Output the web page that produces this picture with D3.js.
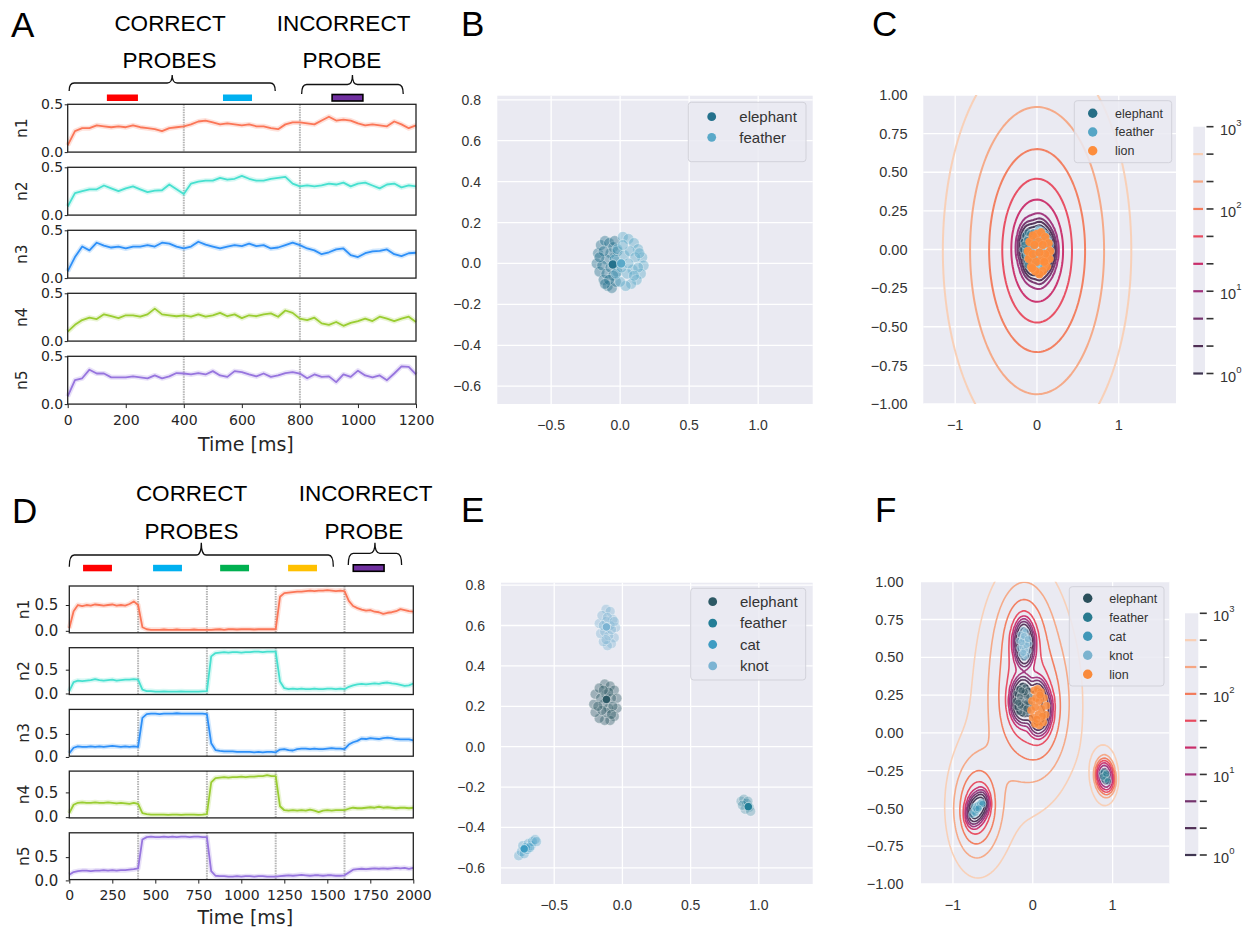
<!DOCTYPE html>
<html>
<head>
<meta charset="utf-8">
<script src="https://cdn.jsdelivr.net/npm/d3@7"></script>
<style>
  body { margin: 0; background: #fff; }
  svg { display: block; }
</style>
</head>
<body>
<svg id="fig" width="1247" height="928"></svg>
<script>
// ---------------- data: firing-rate traces ----------------
var neurons = ["n1", "n2", "n3", "n4", "n5"];

var timeA = d3.range(0, 1201, 25);
var a_n1 = [0.07,0.22,0.25,0.25,0.28,0.27,0.26,0.27,0.26,0.28,0.26,0.25,0.24,0.22,0.25,0.26,0.27,0.29,0.32,0.33,0.31,0.29,0.30,0.29,0.28,0.29,0.27,0.27,0.25,0.24,0.29,0.31,0.31,0.30,0.29,0.33,0.37,0.33,0.34,0.33,0.30,0.28,0.29,0.28,0.27,0.32,0.29,0.25,0.28];
var a_n2 = [0.09,0.23,0.25,0.27,0.27,0.31,0.28,0.25,0.28,0.30,0.27,0.24,0.255,0.26,0.32,0.27,0.22,0.33,0.35,0.36,0.36,0.39,0.37,0.38,0.41,0.38,0.36,0.36,0.38,0.39,0.40,0.33,0.30,0.31,0.30,0.31,0.33,0.32,0.34,0.30,0.33,0.34,0.31,0.28,0.32,0.33,0.29,0.31,0.30];
var a_n3 = [0.07,0.22,0.33,0.29,0.37,0.34,0.32,0.33,0.31,0.33,0.33,0.345,0.33,0.37,0.36,0.33,0.31,0.33,0.38,0.35,0.33,0.31,0.33,0.345,0.335,0.36,0.335,0.345,0.31,0.32,0.345,0.37,0.345,0.31,0.29,0.25,0.27,0.30,0.31,0.24,0.22,0.26,0.28,0.285,0.30,0.25,0.23,0.26,0.265];
var a_n4 = [0.10,0.17,0.22,0.245,0.23,0.28,0.26,0.24,0.27,0.27,0.255,0.28,0.34,0.28,0.27,0.26,0.27,0.255,0.28,0.255,0.27,0.295,0.26,0.28,0.24,0.27,0.26,0.28,0.29,0.255,0.32,0.295,0.235,0.22,0.245,0.185,0.17,0.20,0.16,0.19,0.21,0.235,0.21,0.255,0.235,0.21,0.235,0.255,0.20];
var a_n5 = [0.08,0.25,0.27,0.36,0.32,0.32,0.28,0.28,0.28,0.29,0.28,0.27,0.30,0.27,0.29,0.325,0.32,0.31,0.325,0.31,0.345,0.30,0.285,0.345,0.335,0.31,0.29,0.32,0.285,0.30,0.325,0.335,0.32,0.27,0.31,0.285,0.29,0.23,0.31,0.285,0.35,0.30,0.28,0.30,0.25,0.32,0.395,0.39,0.31];

var timeD = d3.range(0, 2001, 25);
var d_n1 = [0.05,0.38,0.50,0.48,0.50,0.49,0.51,0.50,0.49,0.50,0.51,0.49,0.50,0.49,0.52,0.57,0.50,
  0.07,0.03,0.02,0.02,0.02,0.025,0.02,0.02,0.025,0.02,0.02,0.02,0.025,0.02,0.02,0.02,
  0.02,0.025,0.03,0.02,0.03,0.03,0.025,0.03,0.03,0.03,0.025,0.03,0.03,0.03,0.03,0.03,
  0.66,0.73,0.74,0.75,0.76,0.76,0.77,0.78,0.77,0.78,0.78,0.79,0.78,0.77,0.78,0.77,
  0.58,0.48,0.44,0.41,0.39,0.40,0.37,0.36,0.33,0.35,0.36,0.38,0.42,0.40,0.38,0.37];
var d_n2 = [0.05,0.24,0.27,0.26,0.27,0.28,0.30,0.28,0.27,0.28,0.29,0.27,0.28,0.29,0.29,0.30,0.29,
  0.08,0.05,0.05,0.04,0.04,0.045,0.04,0.04,0.04,0.045,0.04,0.04,0.04,0.04,0.045,0.05,
  0.78,0.85,0.86,0.87,0.86,0.87,0.87,0.86,0.87,0.87,0.88,0.88,0.87,0.88,0.88,0.88,
  0.25,0.11,0.09,0.10,0.09,0.10,0.09,0.09,0.10,0.09,0.09,0.10,0.10,0.09,0.10,0.09,
  0.14,0.17,0.19,0.20,0.19,0.20,0.21,0.20,0.22,0.23,0.21,0.20,0.18,0.16,0.17,0.21];
var d_n3 = [0.08,0.20,0.23,0.22,0.22,0.23,0.22,0.23,0.22,0.23,0.24,0.23,0.22,0.23,0.22,0.23,0.22,
  0.85,0.93,0.94,0.94,0.93,0.94,0.94,0.94,0.95,0.94,0.94,0.94,0.94,0.94,0.94,0.93,
  0.30,0.15,0.13,0.12,0.12,0.12,0.11,0.11,0.11,0.11,0.10,0.11,0.10,0.11,0.11,0.10,
  0.16,0.17,0.15,0.14,0.17,0.18,0.18,0.17,0.18,0.17,0.17,0.18,0.19,0.18,0.18,0.17,
  0.27,0.32,0.35,0.40,0.39,0.41,0.40,0.39,0.41,0.42,0.41,0.39,0.38,0.38,0.38,0.36];
var d_n4 = [0.08,0.25,0.29,0.30,0.29,0.29,0.30,0.29,0.29,0.30,0.29,0.28,0.29,0.28,0.27,0.29,0.27,
  0.08,0.06,0.05,0.05,0.05,0.05,0.045,0.05,0.05,0.045,0.05,0.05,0.05,0.045,0.05,0.06,
  0.70,0.79,0.80,0.81,0.80,0.81,0.81,0.82,0.81,0.82,0.82,0.83,0.83,0.85,0.83,0.83,
  0.22,0.14,0.13,0.14,0.13,0.14,0.13,0.15,0.13,0.10,0.13,0.14,0.13,0.14,0.14,0.14,
  0.17,0.19,0.18,0.18,0.19,0.20,0.19,0.21,0.19,0.20,0.19,0.18,0.19,0.19,0.18,0.19];
var d_n5 = [0.12,0.18,0.20,0.21,0.21,0.20,0.21,0.21,0.22,0.21,0.22,0.21,0.22,0.22,0.23,0.24,0.26,
  0.88,0.93,0.94,0.93,0.93,0.94,0.93,0.94,0.93,0.94,0.94,0.93,0.94,0.94,0.93,0.93,
  0.20,0.10,0.09,0.09,0.08,0.08,0.09,0.08,0.09,0.09,0.08,0.09,0.09,0.08,0.08,0.08,
  0.09,0.10,0.11,0.10,0.11,0.12,0.11,0.10,0.11,0.11,0.10,0.11,0.11,0.10,0.10,0.11,
  0.17,0.23,0.24,0.25,0.24,0.25,0.26,0.25,0.26,0.25,0.26,0.27,0.26,0.27,0.25,0.27];

var eventsA = [400, 800];
var eventsD = [400, 800, 1200, 1600];
var probesA = [[135, 242], [535, 635], [911, 1017]];
var probesD = [[80, 248], [487, 655], [877, 1045], [1272, 1440], [1651, 1830]];
var bracesA = [[5, 715], [806, 1156]];
var bracesD = [[0, 1535], [1622, 1932]];
var xTicksA = [0, 200, 400, 600, 800, 1000, 1200];
var xTicksD = [0, 250, 500, 750, 1000, 1250, 1500, 1750, 2000];
var traceYTicks = [0, 0.5];

// ---------------- data: embeddings ----------------
var bElephant = [[-0.16,0.05],[-0.14,0.09],[-0.11,0.11],[-0.08,0.10],[-0.05,0.08],[-0.17,0.00],[-0.15,-0.04],[-0.12,-0.08],[-0.09,-0.11],[-0.06,-0.12],[-0.03,-0.09],[-0.02,-0.04],[-0.04,0.03],[-0.07,0.05],[-0.10,0.02],[-0.13,-0.01],[-0.10,-0.05],[-0.07,-0.02],[-0.12,0.06],[-0.05,-0.06],[-0.15,0.03],[-0.08,-0.08],[-0.02,0.06],[-0.11,-0.10],[-0.04,0.11]];
var bFeather = [[0.02,0.13],[0.06,0.12],[0.10,0.10],[0.13,0.07],[0.16,0.03],[0.17,-0.01],[0.15,-0.05],[0.12,-0.08],[0.08,-0.10],[0.04,-0.11],[0.00,-0.09],[-0.03,-0.05],[-0.04,0.02],[-0.02,0.07],[0.03,0.04],[0.07,0.06],[0.11,0.03],[0.09,-0.03],[0.05,-0.05],[0.01,-0.02],[0.13,-0.02],[0.06,0.00],[0.10,-0.06],[0.02,0.09],[0.14,0.05]];
var bMeans = [[-0.053,-0.005],[0.007,0.0]];
var cLion = [[0.00,0.10],[0.05,0.11],[0.10,0.08],[0.14,0.04],[0.16,-0.01],[0.15,-0.06],[0.12,-0.11],[0.07,-0.14],[0.03,-0.16],[-0.02,-0.14],[-0.07,-0.11],[-0.10,-0.06],[-0.11,-0.01],[-0.09,0.05],[-0.05,0.09],[0.02,0.05],[0.07,0.03],[0.10,-0.03],[0.05,-0.07],[-0.01,-0.08],[-0.05,-0.03],[-0.03,0.03],[0.03,-0.02],[0.09,-0.08],[-0.06,-0.12]];

var eElephant = [[-0.13,0.31],[-0.09,0.30],[-0.06,0.28],[-0.04,0.24],[-0.04,0.19],[-0.06,0.15],[-0.09,0.13],[-0.13,0.13],[-0.17,0.14],[-0.20,0.17],[-0.21,0.21],[-0.20,0.26],[-0.17,0.29],[-0.12,0.26],[-0.08,0.24],[-0.10,0.19],[-0.14,0.21],[-0.16,0.24],[-0.07,0.20],[-0.12,0.17],[-0.15,0.18],[-0.10,0.27],[-0.18,0.20],[-0.08,0.16],[-0.14,0.28]];
var eFeather = [[0.87,-0.27],[0.89,-0.26],[0.91,-0.28],[0.93,-0.30],[0.90,-0.31],[0.88,-0.29],[0.92,-0.27],[0.94,-0.32]];
var eCat = [[-0.76,-0.54],[-0.74,-0.52],[-0.72,-0.53],[-0.73,-0.49],[-0.70,-0.51],[-0.69,-0.48],[-0.67,-0.49],[-0.66,-0.47],[-0.64,-0.46],[-0.63,-0.47],[-0.71,-0.50],[-0.68,-0.50]];
var eKnot = [[-0.12,0.68],[-0.09,0.67],[-0.07,0.63],[-0.05,0.59],[-0.06,0.54],[-0.08,0.51],[-0.11,0.50],[-0.14,0.52],[-0.16,0.56],[-0.17,0.61],[-0.15,0.65],[-0.12,0.62],[-0.09,0.60],[-0.13,0.57],[-0.10,0.55],[-0.08,0.58],[-0.14,0.60],[-0.11,0.64],[-0.06,0.62],[-0.12,0.53]];
var eMeans = [[-0.117,0.234],[0.923,-0.297],[-0.72,-0.506],[-0.117,0.593]];
var fLion = [[0.02,0.28],[0.06,0.29],[0.10,0.27],[0.14,0.23],[0.17,0.18],[0.16,0.12],[0.13,0.07],[0.08,0.05],[0.03,0.06],[0.00,0.10],[-0.02,0.15],[-0.01,0.21],[0.04,0.23],[0.08,0.21],[0.11,0.16],[0.07,0.12],[0.03,0.17],[0.12,0.11],[0.05,0.09],[0.09,0.25]];

var wordsB = ["elephant", "feather"];
var wordsC = ["elephant", "feather", "lion"];
var wordsE = ["elephant", "feather", "cat", "knot"];
var wordsF = ["elephant", "feather", "cat", "knot", "lion"];

var mapXTicks = [-0.5, 0, 0.5, 1.0];
var mapYTicks = [-0.6, -0.4, -0.2, 0, 0.2, 0.4, 0.6, 0.8];
var kdeXTicks = [-1, 0, 1];
var kdeYTicks = [-1, -0.75, -0.5, -0.25, 0, 0.25, 0.5, 0.75, 1];
var cbarDecades = [0, 1, 2, 3];

// ---------------- styling ----------------
var svg = d3.select("#fig");
var SANS = "Liberation Sans, Arial, sans-serif";
var DEJA = "DejaVu Sans, sans-serif";
var traceColors = ["#fb7657", "#47e0cf", "#2e90f8", "#9acd32", "#9775de"];
var probeColorsA = ["#ff0000", "#00b0f0", "#7030a0"];
var probeColorsD = ["#ff0000", "#00b0f0", "#00b050", "#ffc000", "#7030a0"];
// contour levels 10^0 ... 10^(8/3): dark -> pale
var levelColors = ["#3f3550", "#4f2e54", "#74336c", "#a0317a", "#c92d6a", "#e8495d", "#f27a5a", "#f5a683", "#f9cfb4"];

function autoLim(vals) {
  var lo = d3.min(vals), hi = d3.max(vals), r = hi - lo;
  return [lo - 0.05 * r - 0.02, hi + 0.05 * r + 0.04];
}

function styleAxis(a, font, size) {
  a.select(".domain").remove();
  a.selectAll("line").attr("stroke", "#222").attr("stroke-width", 1);
  a.selectAll("text").attr("font-family", font).attr("font-size", size).attr("fill", "#262626");
}

function brace(g, x0, x1, yTop, yLine, yEnd) {
  var xc = (x0 + x1) / 2, r = 5;
  var p = d3.path();
  p.moveTo(x0, yEnd);
  p.quadraticCurveTo(x0, yLine, x0 + r, yLine);
  p.lineTo(xc - r, yLine);
  p.quadraticCurveTo(xc, yLine, xc, yTop);
  p.quadraticCurveTo(xc, yLine, xc + r, yLine);
  p.lineTo(x1 - r, yLine);
  p.quadraticCurveTo(x1, yLine, x1, yEnd);
  g.append("path").attr("d", p.toString()).attr("fill", "none").attr("stroke", "#111").attr("stroke-width", 1.3);
}

function panelLetter(t, x, y) {
  svg.append("text").attr("x", x).attr("y", y).text(t)
    .attr("font-family", SANS).attr("font-size", 35).attr("fill", "#000");
}

function header(t, x, y) {
  svg.append("text").attr("x", x).attr("y", y).text(t).attr("text-anchor", "middle")
    .attr("font-family", SANS).attr("font-size", 22.5).attr("fill", "#000");
}

// ---------------- stacked traces (A, D) ----------------
function tracePanel(cfg) {
  var x = d3.scaleLinear().domain(cfg.xDomain).range(cfg.xRange);
  var g = svg.append("g");

  // probe braces and bars
  cfg.braces.forEach(function(b, i) {
    brace(g, x(b[0]), x(b[1]), cfg.brace[i][0], cfg.brace[i][1], cfg.brace[i][2]);
  });
  cfg.probes.forEach(function(p, i) {
    var last = i === cfg.probes.length - 1;
    g.append("rect").attr("x", x(p[0])).attr("y", cfg.barY).attr("width", x(p[1]) - x(p[0])).attr("height", 6.5)
      .attr("fill", cfg.probeColors[i])
      .attr("stroke", last ? "#000" : "none").attr("stroke-width", 1.6);
  });

  cfg.traces.forEach(function(vals, k) {
    var top = cfg.top + k * cfg.step;
    var lim = cfg.ylim || autoLim(vals);
    var y = d3.scaleLinear().domain(lim).range([top + cfg.h, top]);
    var line = d3.line()
      .x(function(d, i) { return x(cfg.time[i]); })
      .y(function(d) { return y(d); });

    cfg.events.forEach(function(t) {
      g.append("line").attr("x1", x(t)).attr("x2", x(t)).attr("y1", top).attr("y2", top + cfg.h)
        .attr("stroke", "#b4b4b4").attr("stroke-width", 2).attr("stroke-dasharray", "1.5,1");
    });
    g.append("path").datum(vals).attr("d", line).attr("fill", "none")
      .attr("stroke", traceColors[k]).attr("stroke-opacity", 0.22).attr("stroke-width", 5).attr("stroke-linejoin", "round");
    g.append("path").datum(vals).attr("d", line).attr("fill", "none")
      .attr("stroke", traceColors[k]).attr("stroke-width", 1.8).attr("stroke-linejoin", "round");
    g.append("rect").attr("x", cfg.xRange[0]).attr("y", top)
      .attr("width", cfg.xRange[1] - cfg.xRange[0]).attr("height", cfg.h)
      .attr("fill", "none").attr("stroke", "#222").attr("stroke-width", 1.3);

    var ay = g.append("g").attr("transform", "translate(" + cfg.xRange[0] + ",0)")
      .call(d3.axisLeft(y).tickValues(traceYTicks).tickSize(cfg.tick).tickPadding(cfg.ypad).tickFormat(d3.format(".1f")));
    styleAxis(ay, DEJA, cfg.yFont);

    g.append("text").text(neurons[k])
      .attr("transform", "translate(" + cfg.labelX + "," + (top + cfg.h / 2) + ") rotate(-90)")
      .attr("text-anchor", "middle").attr("font-family", DEJA).attr("font-size", 15.5).attr("fill", "#262626");

    if (k === cfg.traces.length - 1) {
      var ax = g.append("g").attr("transform", "translate(0," + (top + cfg.h) + ")")
        .call(d3.axisBottom(x).tickValues(cfg.xTicks).tickSize(4).tickPadding(6.5).tickFormat(d3.format("d")));
      styleAxis(ax, DEJA, 14);
      g.append("text").text("Time [ms]").attr("x", (cfg.xRange[0] + cfg.xRange[1]) / 2 + 4).attr("y", cfg.titleY)
        .attr("text-anchor", "middle").attr("font-family", DEJA).attr("font-size", 19).attr("fill", "#262626");
    }
  });
}

// ---------------- density contours ----------------
// smooth density (gaussian core + long tail) of the embedded points, drawn at 9 log-spaced levels
function kdeContours(g, x, y, sets, k) {
  var step = 2, pad = 12;
  var xr = x.range(), yr = y.range();
  var w = xr[1] - xr[0], h = yr[0] - yr[1];
  var nx = Math.ceil((w + 2 * pad) / step) + 1, ny = Math.ceil((h + 2 * pad) / step) + 1;
  var x0 = xr[0] - pad, y0 = yr[1] - pad;
  var vals = new Float64Array(nx * ny);
  var h2 = 2 * k.h * k.h, s2 = k.s * k.s, ty2 = k.ty * k.ty;
  for (var j = 0; j < ny; j++) {
    var py = y.invert(y0 + j * step);
    for (var i = 0; i < nx; i++) {
      var px = x.invert(x0 + i * step), v = 0;
      sets.forEach(function(set) {
        var pts = set[0], wgt = set[1], sum = 0;
        for (var p = 0; p < pts.length; p++) {
          var dx = px - pts[p][0], dy = py - pts[p][1];
          sum += k.wc * Math.exp(-(dx * dx + dy * dy) / h2) + k.wt * Math.pow(1 + (dx * dx + dy * dy / ty2) / s2, -k.p);
        }
        v += wgt * sum;
      });
      vals[j * nx + i] = v;
    }
  }
  var thresholds = d3.range(9).map(function(q) { return k.base * Math.pow(10, q / 3); });
  var contours = d3.contours().size([nx, ny]).thresholds(thresholds)(vals);
  var proj = d3.geoTransform({
    point: function(cx, cy) { this.stream.point(x0 + (cx - 0.5) * step, y0 + (cy - 0.5) * step); }
  });
  g.selectAll(".lvl").data(contours).join("path").attr("class", "lvl")
    .attr("d", d3.geoPath(proj)).attr("fill", "none")
    .attr("stroke", function(d, i) { return levelColors[8 - i]; })
    .attr("stroke-width", k.lw).attr("stroke-opacity", 0.95);
}

// ---------------- embedding panels (B, C, E, F) ----------------
function mapPanel(cfg) {
  var x = d3.scaleLinear().domain(cfg.xDomain).range([cfg.left, cfg.right]);
  var y = d3.scaleLinear().domain(cfg.yDomain).range([cfg.bottom, cfg.top]);
  var g = svg.append("g");

  g.append("rect").attr("x", cfg.left).attr("y", cfg.top)
    .attr("width", cfg.right - cfg.left).attr("height", cfg.bottom - cfg.top).attr("fill", "#eaeaf2");

  g.selectAll(null).data(cfg.xTicks).enter().append("line")
    .attr("x1", function(d) { return x(d); }).attr("x2", function(d) { return x(d); })
    .attr("y1", cfg.top).attr("y2", cfg.bottom).attr("stroke", "#fff").attr("stroke-width", 1.3);
  g.selectAll(null).data(cfg.yTicks).enter().append("line")
    .attr("y1", function(d) { return y(d); }).attr("y2", function(d) { return y(d); })
    .attr("x1", cfg.left).attr("x2", cfg.right).attr("stroke", "#fff").attr("stroke-width", 1.3);

  g.selectAll(null).data(cfg.yTicks).enter().append("text")
    .attr("x", cfg.yLabelX).attr("y", function(d) { return y(d); }).attr("dy", "0.36em")
    .attr("text-anchor", "end").text(cfg.yFormat)
    .attr("font-family", SANS).attr("font-size", cfg.font).attr("fill", "#333");
  g.selectAll(null).data(cfg.xTicks).enter().append("text")
    .attr("x", function(d) { return x(d); }).attr("y", cfg.xLabelY).attr("dy", "0.36em")
    .attr("text-anchor", "middle").text(cfg.xFormat)
    .attr("font-family", SANS).attr("font-size", cfg.font).attr("fill", "#333");

  svg.append("clipPath").attr("id", cfg.id).append("rect")
    .attr("x", cfg.left).attr("y", cfg.top).attr("width", cfg.right - cfg.left).attr("height", cfg.bottom - cfg.top);
  var inner = g.append("g").attr("clip-path", "url(#" + cfg.id + ")");

  if (cfg.kde) kdeContours(inner, x, y, cfg.kdeSets, cfg.kde);

  cfg.clusters.forEach(function(c) {
    inner.selectAll(null).data(c.pts).enter().append("circle")
      .attr("cx", function(d) { return x(d[0]); }).attr("cy", function(d) { return y(d[1]); })
      .attr("r", c.r || cfg.r).attr("fill", c.color).attr("fill-opacity", c.alpha)
      .attr("stroke", "#fff").attr("stroke-width", 0.6).attr("stroke-opacity", c.edge === undefined ? 0.6 : c.edge);
  });
  cfg.means.forEach(function(m, i) {
    inner.append("circle").attr("cx", x(m[0])).attr("cy", y(m[1])).attr("r", cfg.r - 0.8)
      .attr("fill", cfg.colors[i]).attr("stroke", "#fff").attr("stroke-width", 0.5);
  });

  // legend
  var L = cfg.legend;
  g.append("rect").attr("x", L.x).attr("y", L.y).attr("width", L.w).attr("height", L.h).attr("rx", 3)
    .attr("fill", "#eaeaf2").attr("fill-opacity", 0.85).attr("stroke", "#d2d2da").attr("stroke-width", 1);
  cfg.words.forEach(function(wd, i) {
    var yy = L.y0 + i * L.dy;
    g.append("circle").attr("cx", L.mx).attr("cy", yy).attr("r", L.r).attr("fill", cfg.colors[i]);
    g.append("text").attr("x", L.tx).attr("y", yy).attr("dy", "0.35em").text(wd)
      .attr("font-family", SANS).attr("font-size", L.font).attr("fill", "#333");
  });
}

function colorbar(cfg) {
  var y = d3.scaleLog().domain([1, 1000]).range([cfg.bottom, cfg.top]);
  var g = svg.append("g");
  g.append("rect").attr("x", cfg.x).attr("y", cfg.top).attr("width", cfg.w)
    .attr("height", cfg.bottom - cfg.top).attr("fill", "#eaeaf2");
  var levels = d3.range(10).map(function(q) { return Math.pow(10, q / 3); });
  levels.forEach(function(v, i) {
    if (i < 9) {
      g.append("line").attr("x1", cfg.x).attr("x2", cfg.x + cfg.w - 2)
        .attr("y1", y(v)).attr("y2", y(v)).attr("stroke", levelColors[i]).attr("stroke-width", 2.2);
    }
    g.append("line").attr("x1", cfg.x + cfg.w + 1.5).attr("x2", cfg.x + cfg.w + 8.5)
      .attr("y1", y(v)).attr("y2", y(v)).attr("stroke", "#333").attr("stroke-width", 1.6);
  });
  cbarDecades.forEach(function(e) {
    var t = g.append("text").attr("x", cfg.labelX).attr("y", y(Math.pow(10, e)) + 8)
      .attr("font-family", SANS).attr("font-size", 14.5).attr("fill", "#333");
    t.append("tspan").text("10");
    t.append("tspan").text(e).attr("font-size", 9.5).attr("dy", -9);
  });
}

// ---------------- A ----------------
panelLetter("A", 11, 36.5);
header("CORRECT", 170, 30.7);
header("PROBES", 169.5, 68);
header("INCORRECT", 343.5, 30.7);
header("PROBE", 342, 68);
tracePanel({
  time: timeA, traces: [a_n1, a_n2, a_n3, a_n4, a_n5],
  xDomain: [0, 1200], xRange: [67.7, 416], xTicks: xTicksA,
  top: 104.3, step: 63, h: 47.8, ylim: [0, 0.5],
  events: eventsA, probes: probesA, probeColors: probeColorsA, barY: 94.5,
  braces: bracesA, brace: [[75, 83, 91], [75, 84.5, 94]],
  tick: 3, ypad: 1.5, yFont: 14, labelX: 26.5, titleY: 450.7
});

// ---------------- D ----------------
panelLetter("D", 12, 523);
header("CORRECT", 191.5, 500.7);
header("PROBES", 191.5, 539);
header("INCORRECT", 365.5, 500.7);
header("PROBE", 364, 539);
tracePanel({
  time: timeD, traces: [d_n1, d_n2, d_n3, d_n4, d_n5],
  xDomain: [0, 2000], xRange: [69.3, 413.3], xTicks: xTicksD,
  top: 586, step: 61.7, h: 46.8, ylim: null,
  events: eventsD, probes: probesD, probeColors: probeColorsD, barY: 564.8,
  braces: bracesD, brace: [[542.7, 555, 566.7], [542.7, 553.3, 565]],
  tick: 3.5, ypad: 7.5, yFont: 15, labelX: 28.5, titleY: 924
});

// ---------------- B ----------------
panelLetter("B", 461, 36);
var colB = ["#24718c", "#5aa9c9"];
mapPanel({
  id: "clipB", left: 497.3, right: 812.7, top: 95.7, bottom: 404,
  xDomain: [-0.89, 1.395], yDomain: [-0.687, 0.82],
  xTicks: mapXTicks, yTicks: mapYTicks, xFormat: d3.format(".1f"), yFormat: d3.format(".1f"),
  yLabelX: 481, xLabelY: 425, font: 14, r: 5.4,
  clusters: [{ pts: bElephant, color: colB[0], alpha: 0.42 }, { pts: bFeather, color: colB[1], alpha: 0.42 }],
  means: bMeans, colors: colB, words: wordsB,
  legend: { x: 688.3, y: 102.3, w: 117.7, h: 59.4, y0: 116.7, dy: 20.6, mx: 711.7, tx: 739.3, r: 4.4, font: 15 }
});

// ---------------- E ----------------
panelLetter("E", 461, 522);
var colE = ["#2d5965", "#237e97", "#3e9cc3", "#7cb4d3"];
mapPanel({
  id: "clipE", left: 501, right: 812.7, top: 582.7, bottom: 884,
  xDomain: [-0.89, 1.395], yDomain: [-0.68, 0.812],
  xTicks: mapXTicks, yTicks: mapYTicks, xFormat: d3.format(".1f"), yFormat: d3.format(".1f"),
  yLabelX: 485, xLabelY: 905, font: 14, r: 5,
  clusters: [{ pts: eElephant, color: colE[0], alpha: 0.4 }, { pts: eFeather, color: colE[1], alpha: 0.28 },
             { pts: eCat, color: colE[2], alpha: 0.32 }, { pts: eKnot, color: colE[3], alpha: 0.38 }],
  means: eMeans, colors: colE, words: wordsE,
  legend: { x: 690.7, y: 588.3, w: 115, h: 91.7, y0: 601.7, dy: 21.4, mx: 712.7, tx: 740, r: 4.4, font: 15 }
});

// ---------------- C ----------------
panelLetter("C", 872, 36);
var colC = ["#266e86", "#56a6c6", "#fd8d3c"];
mapPanel({
  id: "clipC", left: 923.3, right: 1176, top: 95, bottom: 404,
  xDomain: [-1.39, 1.70], yDomain: [-1, 1],
  xTicks: kdeXTicks, yTicks: kdeYTicks, xFormat: d3.format("d"), yFormat: d3.format(".2f"),
  yLabelX: 907.5, xLabelY: 425, font: 14.5, r: 3.8,
  kdeSets: [[bElephant, 1], [bFeather, 1], [cLion, 1]],
  kde: { wc: 1, h: 0.035, s: 0.05, wt: 0.073, p: 1.1, ty: 1.15, base: 0.0056, lw: 2 },
  clusters: [{ pts: bElephant, color: colC[0], alpha: 0.6 }, { pts: bFeather, color: colC[1], alpha: 0.6 },
             { pts: cLion, color: colC[2], alpha: 0.95, r: 4.4, edge: 0.15 }],
  means: [], colors: colC, words: wordsC,
  legend: { x: 1074.3, y: 100.7, w: 97.4, h: 62, y0: 113.3, dy: 18.7, mx: 1092.7, tx: 1115, r: 4.7, font: 12.5 }
});
colorbar({ x: 1193.3, w: 11.7, top: 126.7, bottom: 373.5, labelX: 1220 });

// ---------------- F ----------------
panelLetter("F", 875, 522);
var colF = ["#2a4f5b", "#297a8f", "#4097b8", "#7bb3cf", "#f98a3b"];
mapPanel({
  id: "clipF", left: 921, right: 1169.3, top: 581.7, bottom: 884,
  xDomain: [-1.40, 1.71], yDomain: [-1, 1],
  xTicks: kdeXTicks, yTicks: kdeYTicks, xFormat: d3.format("d"), yFormat: d3.format(".2f"),
  yLabelX: 903.5, xLabelY: 905, font: 14.5, r: 3.6,
  kdeSets: [[eElephant, 1], [eFeather, 0.2], [eCat, 1.3], [eKnot, 1], [fLion, 1]],
  kde: { wc: 1, h: 0.035, s: 0.05, wt: 0.073, p: 1.3, ty: 1.15, base: 0.006, lw: 1.6 },
  clusters: [{ pts: eElephant, color: colF[0], alpha: 0.55 }, { pts: eFeather, color: colF[1], alpha: 0.55 },
             { pts: eCat, color: colF[2], alpha: 0.55 }, { pts: eKnot, color: colF[3], alpha: 0.6 },
             { pts: fLion, color: colF[4], alpha: 0.85, r: 4, edge: 0.2 }],
  means: [], colors: colF, words: wordsF,
  legend: { x: 1069.3, y: 586.7, w: 94.7, h: 99.3, y0: 598.3, dy: 19, mx: 1087.7, tx: 1109.3, r: 4.7, font: 12.5 }
});
colorbar({ x: 1185, w: 13.3, top: 613.3, bottom: 855, labelX: 1213 });
</script>
</body>
</html>
